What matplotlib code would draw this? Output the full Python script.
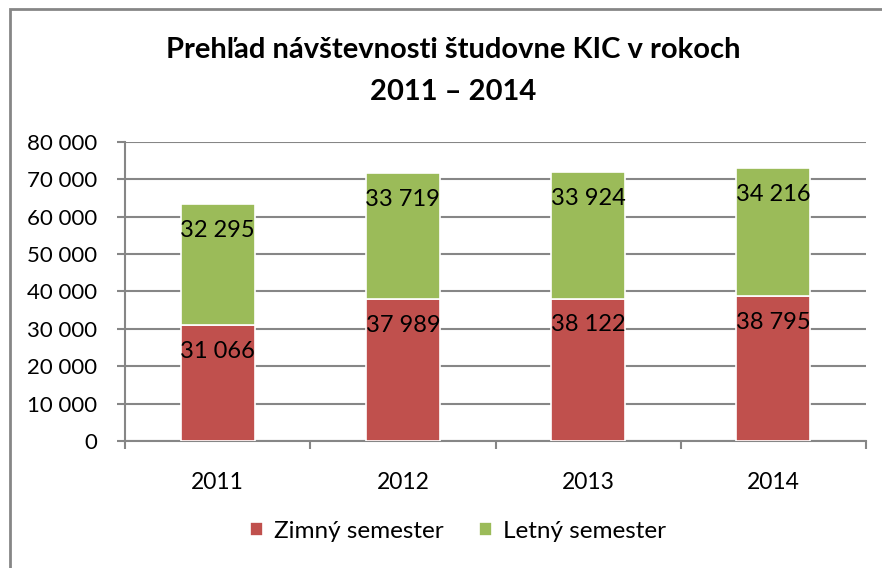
import matplotlib.pyplot as plt
from matplotlib.patches import Rectangle
from matplotlib.ticker import FuncFormatter

plt.rcParams['font.family'] = ['Lato', 'DejaVu Sans']

years = ['2011', '2012', '2013', '2014']
zimny = [31066, 37989, 38122, 38795]
letny = [32295, 33719, 33924, 34216]

red = '#C0504D'
green = '#9BBB59'
grid = '#868686'


def fmt(v, pos=None):
    return '{:,}'.format(int(v)).replace(',', ' ')


fig = plt.figure(figsize=(8.82, 5.68), dpi=100)
ax = fig.add_axes([0.1417, 0.2236, 0.8402, 0.5264])

x = range(len(years))
b1 = ax.bar(x, zimny, width=0.4, color=red, edgecolor='white', linewidth=1.2, label='Zimný semester', zorder=3)
b2 = ax.bar(x, letny, width=0.4, bottom=zimny, color=green, edgecolor='white', linewidth=1.2, label='Letný semester', zorder=3)

for i in x:
    ax.annotate(fmt(zimny[i]), (i, zimny[i]), xytext=(0, -19), textcoords='offset points',
                ha='center', va='center', fontsize=17, zorder=4)
    ax.annotate(fmt(letny[i]), (i, zimny[i] + letny[i]), xytext=(0, -19), textcoords='offset points',
                ha='center', va='center', fontsize=17, zorder=4)

ax.set_xlim(-0.5, 3.5)
ax.set_ylim(0, 80000)
ax.set_yticks(range(0, 80001, 10000))
ax.yaxis.set_major_formatter(FuncFormatter(fmt))
ax.yaxis.grid(True, color=grid, linewidth=1.5, zorder=0)
ax.set_xticks(list(x))
ax.set_xticklabels(years)
ax.set_xticks([-0.5, 0.5, 1.5, 2.5, 3.5], minor=True)
ax.tick_params(axis='x', which='major', length=0, pad=22, labelsize=16.5)
ax.tick_params(axis='x', which='minor', length=6, width=1.5, color=grid)
ax.tick_params(axis='y', length=6, width=1.5, color=grid, labelsize=16, pad=14)
for s in ['top', 'right']:
    ax.spines[s].set_visible(False)
for s in ['left', 'bottom']:
    ax.spines[s].set_color(grid)
    ax.spines[s].set_linewidth(1.5)

fig.text(0.514, 0.912, 'Prehľad návštevnosti študovne KIC v rokoch', ha='center', va='center',
         fontsize=21, fontweight='bold')
fig.text(0.514, 0.838, '2011 – 2014', ha='center', va='center', fontsize=21, fontweight='bold')

fig.legend(handles=[b1, b2], loc='center', bbox_to_anchor=(0.519, 0.065), ncol=2, frameon=False,
           fontsize=17.5, handlelength=0.55, handleheight=0.55, handletextpad=0.45, columnspacing=1.45)

fig.patches.append(Rectangle((9.5 / 882, -0.1), 1.2, 0.1 + 1 - 9.5 / 568, transform=fig.transFigure,
                             fill=False, edgecolor=grid, linewidth=2))

fig.savefig('out.png', dpi=100)
